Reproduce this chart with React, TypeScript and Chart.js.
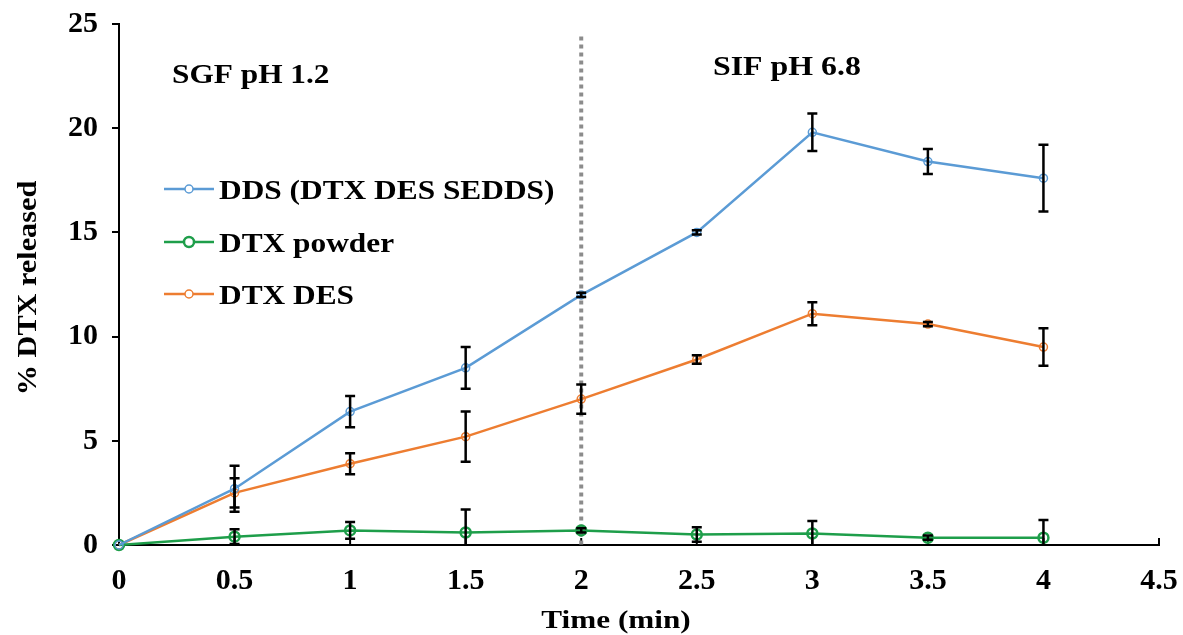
import React, { useEffect, useRef } from "react";
import { Chart, registerables } from "chart.js";

Chart.register(...registerables);

// ---------- data ----------
const timePoints = [0, 0.5, 1, 1.5, 2, 2.5, 3, 3.5, 4];
const ddsValues = [0, 2.7, 6.4, 8.5, 12.0, 15.0, 19.8, 18.4, 17.6];
const ddsErrors = [0, 1.1, 0.75, 1.0, 0.1, 0.1, 0.9, 0.6, 1.6];
const powderValues = [0, 0.4, 0.7, 0.6, 0.7, 0.5, 0.55, 0.35, 0.35];
const powderErrors = [0, 0.35, 0.4, 1.1, 0.1, 0.35, 0.6, 0.1, 0.85];
const desValues = [0, 2.5, 3.9, 5.2, 7.0, 8.9, 11.1, 10.6, 9.5];
const desErrors = [0, 0.7, 0.5, 1.2, 0.7, 0.2, 0.55, 0.1, 0.9];

const seriesLabels = ["DDS (DTX DES SEDDS)", "DTX powder", "DTX DES"];
const seriesColors = ["#5B9BD5", "#1E9E4A", "#ED7D31"];
const phaseLabels = ["SGF pH 1.2", "SIF pH 6.8"];
const xTitle = "Time (min)";
const yTitle = "% DTX released";
const phaseBoundary = 2;
const phaseLineTop = 24.4;
const xTickValues = [0, 0.5, 1, 1.5, 2, 2.5, 3, 3.5, 4, 4.5];

const FONT = '"Liberation Serif", "Times New Roman", serif';
const SX = 1.14;

function drawText(
  ctx: CanvasRenderingContext2D,
  text: string,
  x: number,
  y: number,
  size: number,
  align: CanvasTextAlign,
  baseline: CanvasTextBaseline,
  rotate = 0,
  sx = SX
) {
  ctx.save();
  ctx.translate(x, y);
  if (rotate) ctx.rotate(rotate);
  ctx.scale(sx, 1);
  ctx.font = `bold ${size}px ${FONT}`;
  ctx.fillStyle = "#000";
  ctx.textAlign = align;
  ctx.textBaseline = baseline;
  ctx.fillText(text, 0, 0);
  ctx.restore();
}

const errorSets = [ddsErrors, powderErrors, desErrors];

const overlayPlugin = {
  id: "overlay",
  beforeDatasetsDraw(chart: any) {
    const { ctx, scales } = chart;
    const x = scales.x;
    const y = scales.y;
    // inside x ticks
    ctx.save();
    ctx.strokeStyle = "#000";
    ctx.lineWidth = 2;
    const y0 = y.getPixelForValue(0);
    xTickValues.forEach((v) => {
      if (v === 0) return;
      const px = x.getPixelForValue(v);
      ctx.beginPath();
      ctx.moveTo(px, y0);
      ctx.lineTo(px, y0 - 7);
      ctx.stroke();
    });
    ctx.restore();
    // phase boundary dotted line
    ctx.save();
    ctx.strokeStyle = "#8C8C8C";
    ctx.lineWidth = 4;
    ctx.setLineDash([4, 4]);
    const px = x.getPixelForValue(phaseBoundary);
    ctx.beginPath();
    ctx.moveTo(px, y.getPixelForValue(phaseLineTop));
    ctx.lineTo(px, y.getPixelForValue(0));
    ctx.stroke();
    ctx.restore();
  },
  afterDatasetsDraw(chart: any) {
    const { ctx, scales, chartArea } = chart;
    const x = scales.x;
    const y = scales.y;
    ctx.save();
    ctx.beginPath();
    ctx.rect(chartArea.left - 20, chartArea.top - 20, chartArea.right - chartArea.left + 40, chartArea.bottom - chartArea.top + 20);
    ctx.clip();
    ctx.strokeStyle = "#000";
    ctx.lineWidth = 2.5;
    chart.data.datasets.forEach((ds: any, i: number) => {
      const errs = errorSets[i];
      ds.data.forEach((pt: any, j: number) => {
        const e = errs[j];
        if (!e) return;
        const px = x.getPixelForValue(pt.x);
        const top = y.getPixelForValue(pt.y + e);
        const bot = y.getPixelForValue(pt.y - e);
        ctx.beginPath();
        ctx.moveTo(px, top);
        ctx.lineTo(px, bot);
        ctx.moveTo(px - 5, top);
        ctx.lineTo(px + 5, top);
        ctx.moveTo(px - 5, bot);
        ctx.lineTo(px + 5, bot);
        ctx.stroke();
      });
    });
    ctx.restore();
  },
  afterDraw(chart: any) {
    const { ctx } = chart;
    // phase labels
    drawText(ctx, phaseLabels[0], 172, 83, 27, "left", "alphabetic", 0, 1.16);
    drawText(ctx, phaseLabels[1], 713, 75, 27, "left", "alphabetic", 0, 1.18);
    // legend
    const rows = [189, 242, 294];
    chart.data.datasets.forEach((ds: any, i: number) => {
      const yy = rows[i];
      ctx.save();
      ctx.strokeStyle = ds.borderColor;
      ctx.lineWidth = 2.5;
      ctx.beginPath();
      ctx.moveTo(164, yy);
      ctx.lineTo(214, yy);
      ctx.stroke();
      ctx.lineWidth = i === 1 ? 2.5 : 1.5;
      ctx.fillStyle = "#fff";
      ctx.beginPath();
      ctx.arc(189, yy, i === 1 ? 5 : 4, 0, Math.PI * 2);
      ctx.fill();
      ctx.stroke();
      ctx.restore();
      drawText(ctx, seriesLabels[i], 219, yy + 10, 28, "left", "alphabetic", 0, 1.12);
    });
    // axis titles
    drawText(ctx, xTitle, 616, 628, 26, "center", "alphabetic", 0, 1.2);
    drawText(ctx, yTitle, 36, 288, 27, "center", "alphabetic", -Math.PI / 2, 1.12);
  },
};

export default function App() {
  const canvasRef = useRef<HTMLCanvasElement | null>(null);

  useEffect(() => {
    document.body.style.margin = "0";
    const canvas = canvasRef.current;
    if (!canvas) return;
    const makeData = (vals: number[]) => timePoints.map((t, i) => ({ x: t, y: vals[i] }));
    const valueSets = [ddsValues, powderValues, desValues];
    const chart = new Chart(canvas, {
      type: "line",
      data: {
        datasets: valueSets.map((vals, i) => ({
          label: seriesLabels[i],
          data: makeData(vals),
          borderColor: seriesColors[i],
          backgroundColor: seriesColors[i],
          borderWidth: 2.5,
          pointRadius: i === 1 ? 5 : 4,
          pointBorderWidth: i === 1 ? 2.5 : 1.5,
          pointBackgroundColor: "rgba(255,255,255,0)",
          pointBorderColor: seriesColors[i],
          tension: 0,
          clip: false as any,
        })),
      },
      options: {
        animation: false,
        responsive: true,
        maintainAspectRatio: false,
        layout: { padding: { top: 24, right: 24, left: 0, bottom: 0 } },
        plugins: { legend: { display: false }, tooltip: { enabled: false } },
        scales: {
          x: {
            type: "linear",
            min: 0,
            max: 4.5,
            afterBuildTicks: (scale: any) => {
              scale.ticks = xTickValues.map((v) => ({ value: v }));
            },
            afterFit: (scale: any) => {
              scale.height = 90;
              scale.paddingLeft = 0;
              scale.paddingRight = 0;
            },
            grid: { display: false, drawTicks: false },
            border: { display: true, color: "#000", width: 2 },
            ticks: {
              color: "#000",
              padding: 18,
              maxRotation: 0,
              autoSkip: false,
              font: { family: FONT, size: 30, weight: "bold" },
              callback: (v: any) => String(v),
            },
          },
          y: {
            min: 0,
            max: 25,
            afterFit: (scale: any) => {
              scale.width = 119;
              scale.paddingTop = 0;
              scale.paddingBottom = 0;
            },
            grid: { drawOnChartArea: false, color: "#000", lineWidth: 2, tickLength: 7 },
            border: { display: true, color: "#000", width: 2 },
            ticks: {
              stepSize: 5,
              color: "#000",
              padding: 14,
              font: { family: FONT, size: 30, weight: "bold" },
            },
          },
        },
      },
      plugins: [overlayPlugin],
    });
    return () => chart.destroy();
  }, []);

  return (
    <div style={{ width: 1183, height: 635, position: "relative" }}>
      <canvas ref={canvasRef} />
    </div>
  );
}
